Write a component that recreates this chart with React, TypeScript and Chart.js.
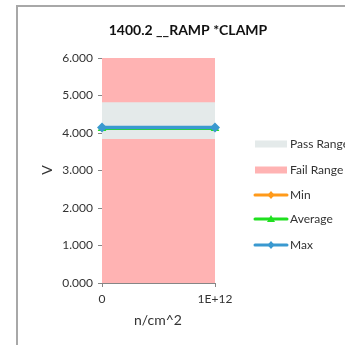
import React, { useEffect, useRef } from "react";
import { Chart, registerables } from "chart.js";

Chart.register(...registerables);

const titleText = "1400.2 __RAMP *CLAMP";
const xAxisTitle = "n/cm^2";
const yAxisTitle = "V";
const xValues = [0, 1e12];
const xTickLabels = ["0", "1E+12"];
const yTicks = [0, 1, 2, 3, 4, 5, 6];
const minValues = [4.14, 4.14];
const avgValues = [4.12, 4.12];
const maxValues = [4.15, 4.15];
const passLow = [3.84, 3.84];
const passHigh = [4.82, 4.82];
const failHigh = [6, 6];
const legendNames = ["Pass Range", "Fail Range", "Min", "Average", "Max"];

const FONT = "Lato, 'Liberation Sans', sans-serif";
const TXT = "#333333";
const C_MIN = "#FF9A1A";
const C_AVG = "#1FE01F";
const C_MAX = "#3A99D0";
const C_PASS = "#E4EAEA";
const C_FAIL = "#FFB3B3";

const pts = (ys: number[]) => xValues.map((x, i) => ({ x, y: ys[i] }));

const decor = {
  id: "decor",
  beforeDraw(chart: any) {
    const ctx = chart.ctx;
    ctx.save();
    ctx.fillStyle = "#ffffff";
    ctx.fillRect(0, 0, chart.width, chart.height);
    ctx.strokeStyle = "#A8A8A8";
    ctx.lineWidth = 2;
    ctx.beginPath();
    ctx.moveTo(17, 345);
    ctx.lineTo(17, 6);
    ctx.lineTo(345, 6);
    ctx.stroke();
    ctx.restore();
  },
  afterDraw(chart: any) {
    const ctx = chart.ctx;
    ctx.save();
    ctx.fillStyle = "#111";
    ctx.textAlign = "center";
    ctx.textBaseline = "middle";
    ctx.font = `bold 14px ${FONT}`;
    ctx.fillText(titleText, 188, 30);
    ctx.fillStyle = TXT;
    ctx.font = `14px ${FONT}`;
    ctx.fillText(xAxisTitle, 158, 320);
    ctx.save();
    ctx.translate(47, 170);
    ctx.rotate(-Math.PI / 2);
    ctx.font = `14px ${FONT}`;
    ctx.fillText(yAxisTitle, 0, 0);
    ctx.restore();

    // legend
    const rows = [144, 170, 195, 219, 245];
    const x0 = 255, x1 = 287, tx = 290;
    ctx.font = `12px ${FONT}`;
    ctx.textAlign = "left";
    rows.forEach((y, i) => {
      if (i === 0 || i === 1) {
        ctx.fillStyle = i === 0 ? C_PASS : C_FAIL;
        ctx.fillRect(x0, y - 3.5, x1 - x0, 7);
      } else {
        const col = i === 2 ? C_MIN : i === 3 ? C_AVG : C_MAX;
        ctx.strokeStyle = col;
        ctx.lineWidth = 3;
        ctx.lineCap = "round";
        ctx.beginPath();
        ctx.moveTo(x0, y);
        ctx.lineTo(x1, y);
        ctx.stroke();
        ctx.fillStyle = col;
        const cx = (x0 + x1) / 2;
        ctx.beginPath();
        if (i === 3) {
          ctx.moveTo(cx, y - 4);
          ctx.lineTo(cx + 4, y + 3);
          ctx.lineTo(cx - 4, y + 3);
        } else {
          ctx.moveTo(cx, y - 4);
          ctx.lineTo(cx + 3.5, y);
          ctx.lineTo(cx, y + 4);
          ctx.lineTo(cx - 3.5, y);
        }
        ctx.closePath();
        ctx.fill();
      }
      ctx.fillStyle = TXT;
      ctx.fillText(legendNames[i], tx, y);
    });
    ctx.restore();
  },
};

export default function App() {
  const ref = useRef<HTMLCanvasElement>(null);
  useEffect(() => {
    if (!ref.current) return;
    const chart = new Chart(ref.current, {
      type: "line",
      data: {
        datasets: [
          {
            label: "Max",
            data: pts(maxValues),
            borderColor: C_MAX,
            backgroundColor: C_MAX,
            borderWidth: 3.5,
            pointStyle: "rectRot",
            pointRadius: 5,
            pointBorderWidth: 0,
            fill: false,
            order: 0,
            clip: false as any,
          },
          {
            label: "Average",
            data: pts(avgValues),
            borderColor: C_AVG,
            backgroundColor: C_AVG,
            borderWidth: 3,
            pointStyle: "triangle",
            pointRadius: 5,
            pointBorderWidth: 0,
            fill: false,
            order: 1,
            clip: false as any,
          },
          {
            label: "Min",
            data: pts(minValues),
            borderColor: C_MIN,
            backgroundColor: C_MIN,
            borderWidth: 3,
            pointStyle: "rectRot",
            pointRadius: 4,
            pointBorderWidth: 0,
            fill: false,
            order: 2,
            clip: false as any,
          },
          {
            label: "PassLow",
            data: pts(passLow),
            borderWidth: 0,
            pointRadius: 0,
            fill: false,
            order: 3,
          },
          {
            label: "Pass Range",
            data: pts(passHigh),
            borderWidth: 0,
            pointRadius: 0,
            backgroundColor: C_PASS,
            fill: 3,
            order: 3,
          },
          {
            label: "Fail Range",
            data: pts(failHigh),
            borderWidth: 0,
            pointRadius: 0,
            backgroundColor: C_FAIL,
            fill: "origin",
            order: 5,
          },
        ],
      },
      options: {
        responsive: false,
        animation: false,
        layout: { padding: { left: 62, right: 130, top: 58, bottom: 32 } },
        plugins: {
          legend: { display: false },
          title: { display: false },
          tooltip: { enabled: false },
        },
        scales: {
          x: {
            type: "linear",
            min: xValues[0],
            max: xValues[xValues.length - 1],
            afterBuildTicks: (s: any) => {
              s.ticks = xValues.map((v) => ({ value: v }));
            },
            afterFit: (s: any) => {
              s.height = 30;
            },
            ticks: {
              callback: (_v: any, i: number) => xTickLabels[i],
              font: { family: FONT, size: 12 },
              color: TXT,
              padding: 5,
              maxRotation: 0,
            },
            grid: {
              drawOnChartArea: false,
              tickLength: 4,
              color: "#868686",
            },
            border: { color: "#868686", width: 1 },
          },
          y: {
            type: "linear",
            min: yTicks[0],
            max: yTicks[yTicks.length - 1],
            afterBuildTicks: (s: any) => {
              s.ticks = yTicks.map((v) => ({ value: v }));
            },
            afterFit: (s: any) => {
              s.width = 40;
            },
            ticks: {
              callback: (v: any) => Number(v).toFixed(3),
              font: { family: FONT, size: 12 },
              color: TXT,
              padding: 5,
            },
            grid: {
              drawOnChartArea: false,
              tickLength: 4,
              color: "#868686",
            },
            border: { color: "#868686", width: 1 },
          },
        },
      },
      plugins: [decor],
    });
    return () => chart.destroy();
  }, []);
  return (
    <div style={{ position: "absolute", left: 0, top: 0, width: 345, height: 345 }}>
      <canvas ref={ref} width={345} height={345} />
    </div>
  );
}
